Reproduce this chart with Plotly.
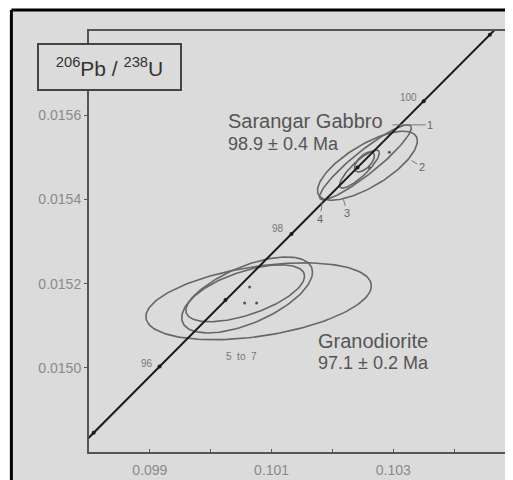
import numpy as np
import plotly.graph_objects as go

# Concordia points (207Pb/235U, 206Pb/238U) at whole-Ma ages
conc_age = [94.5, 95, 96, 97, 98, 99, 100, 101, 101.5]
conc_x = [0.097536, 0.098077, 0.099159, 0.100242, 0.101326, 0.102412, 0.103498, 0.104585, 0.105129]
conc_y = [0.014767, 0.014846, 0.015003, 0.015161, 0.015318, 0.015476, 0.015633, 0.015791, 0.015870]

# error ellipses: centre, 2-sigma half widths, correlation
ell_group = ["gabbro", "gabbro", "gabbro", "gabbro", "grano", "grano", "grano"]
ell_x0 = [0.102574, 0.102541, 0.102443, 0.102525, 0.100787, 0.100598, 0.100566]
ell_y0 = [0.015480, 0.015488, 0.015472, 0.015489, 0.015158, 0.015173, 0.015177]
ell_sx = [0.000820, 0.000754, 0.000328, 0.000164, 0.001852, 0.001074, 0.000975]
ell_sy = [0.0000819, 0.0000890, 0.0000451, 0.0000237, 0.0000913, 0.0000902, 0.0000676]
ell_rho = [0.72, 0.92, 0.85, 0.60, 0.40, 0.60, 0.60]

# small centre dots
dot_x = [0.102934, 0.102607, 0.100639, 0.100557, 0.100754]
dot_y = [0.015512, 0.015475, 0.015192, 0.015154, 0.015154]

x_ticks = [0.099, 0.101, 0.103]
x_tick_text = ["0.099", "0.101", "0.103"]
y_ticks = [0.0150, 0.0152, 0.0154, 0.0156]
y_tick_text = ["0.0150", "0.0152", "0.0154", "0.0156"]

BG = "#dbdbdb"
ELL = "#666666"
FONT = "Liberation Sans, Arial, sans-serif"

fig = go.Figure()

t = np.linspace(0, 2 * np.pi, 160)
for x0, y0, sx, sy, r in zip(ell_x0, ell_y0, ell_sx, ell_sy, ell_rho):
    ex = x0 + sx * np.cos(t)
    ey = y0 + sy * (r * np.cos(t) + np.sqrt(1 - r * r) * np.sin(t))
    fig.add_trace(go.Scatter(x=ex, y=ey, mode="lines",
                             line=dict(color=ELL, width=1.6),
                             hoverinfo="skip", showlegend=False))

fig.add_trace(go.Scatter(x=conc_x, y=conc_y, mode="lines",
                         line=dict(color="#1a1a1a", width=2),
                         showlegend=False))
fig.add_trace(go.Scatter(x=conc_x[1:-1], y=conc_y[1:-1], mode="markers",
                         marker=dict(color="#1a1a1a", size=4),
                         showlegend=False))
fig.add_trace(go.Scatter(x=dot_x, y=dot_y, mode="markers",
                         marker=dict(color="#555555", size=3),
                         showlegend=False))

annots = []

def txt(x, y, s, size, anchor="left", color="#555555"):
    annots.append(dict(x=x, y=y, text=s, showarrow=False, xanchor=anchor,
                       yanchor="middle", font=dict(size=size, color=color, family=FONT)))

txt(0.100246, 0.015586, "Sarangar Gabbro", 20)
txt(0.100246, 0.015531, "98.9 ± 0.4 Ma", 18)
txt(0.101721, 0.015064, "Granodiorite", 20)
txt(0.101721, 0.015012, "97.1 ± 0.2 Ma", 18)
txt(0.100508, 0.015028, "5  to  7", 10, anchor="center", color="#777777")
txt(0.098951, 0.015010, "96", 10, anchor="center", color="#777777")
txt(0.101098, 0.015330, "98", 10, anchor="center", color="#777777")
txt(0.103246, 0.015643, "100", 10, anchor="center", color="#777777")

# numbered grains with short leaders
for lx, ly, ax, ay, s in [(0.102984, 0.015577, 38, 0, "1"),
                          (0.103300, 0.015492, 10, 6, "2"),
                          (0.102180, 0.015400, 4, 14, "3"),
                          (0.101830, 0.015392, -2, 16, "4")]:
    annots.append(dict(x=lx, y=ly, text=s, showarrow=True, arrowhead=0,
                       arrowwidth=1, arrowcolor="#777777", ax=ax, ay=ay,
                       font=dict(size=11, color="#666666", family=FONT)))

# axis title box
annots.append(dict(xref="paper", yref="paper", x=-0.1232, y=0.9716,
                   xanchor="left", yanchor="top",
                   text="<sup>206</sup>Pb / <sup>238</sup>U", showarrow=False,
                   width=141, height=44, borderwidth=2, borderpad=0,
                   bordercolor="#444444", bgcolor=BG,
                   font=dict(size=21, color="#333333", family=FONT)))

# page body has an 8px margin, so the figure is offset to compensate
fig.update_layout(
    width=513, height=480,
    margin=dict(l=81, r=10, t=23, b=34),
    paper_bgcolor=BG, plot_bgcolor=BG,
    annotations=annots,
    shapes=[
        dict(type="rect", xref="paper", yref="paper", x0=-0.3, x1=1.2,
             y0=1.0496, y1=1.2, fillcolor="white", line=dict(width=0), layer="below"),
        dict(type="rect", xref="paper", yref="paper", x0=-0.3, x1=-0.1848,
             y0=-0.2, y1=1.2, fillcolor="white", line=dict(width=0), layer="below"),
        dict(type="line", xref="paper", yref="paper", x0=-0.1848, x1=1.2,
             y0=1.0496, y1=1.0496, line=dict(color="black", width=3)),
        dict(type="line", xref="paper", yref="paper", x0=-0.1848, x1=-0.1848,
             y0=-0.2, y1=1.0496, line=dict(color="black", width=3)),
    ],
)

fig.update_xaxes(range=[0.098, 0.1049], tickvals=x_ticks, ticktext=x_tick_text,
                 ticks="inside", ticklen=3, tickcolor="#555555",
                 minor=dict(tick0=0.098, dtick=0.001, ticks="inside", ticklen=3,
                            tickcolor="#555555", showgrid=False),
                 showline=True, linecolor="#555555", linewidth=2, mirror=True,
                 showgrid=False, zeroline=False, ticklabelstandoff=4,
                 tickfont=dict(size=14, color="#8a8a8a", family=FONT))
fig.update_yaxes(range=[0.0148, 0.0158], tickvals=y_ticks, ticktext=y_tick_text,
                 ticks="outside", ticklen=3, tickcolor="#555555",
                 showline=True, linecolor="#555555", linewidth=2, mirror=True,
                 showgrid=False, zeroline=False,
                 tickfont=dict(size=14, color="#8a8a8a", family=FONT))

fig.write_html("out.html")
